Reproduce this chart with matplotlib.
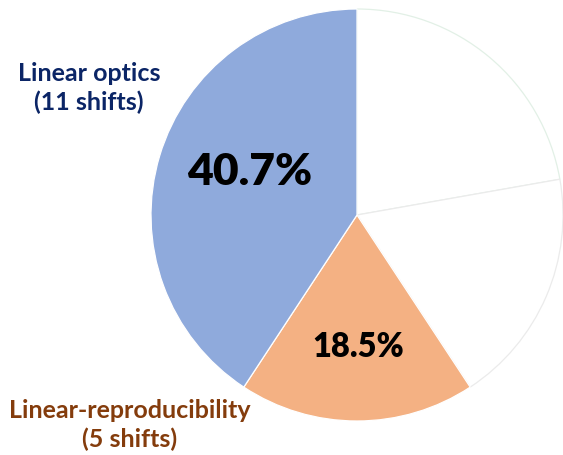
import matplotlib.pyplot as plt

# shifts per category, clockwise from 12 o'clock
categories = ['Other A', 'Other B', 'Linear-reproducibility', 'Linear optics']
shifts = [6, 5, 5, 11]
colors = ['white', 'white', '#F4B183', '#8FAADC']
edges = ['#E2F0E6', '#EBEBEB', 'white', 'white']

plt.rcParams['font.family'] = ['Lato', 'DejaVu Sans']

fig = plt.figure(figsize=(5.63, 4.56), dpi=100)
W, H = 563, 456
cx, cy, r = 357, 216, 206
ax = fig.add_axes([(cx - r) / W, (H - cy - r) / H, 2 * r / W, 2 * r / H])

wedges, _ = ax.pie(shifts, colors=colors, startangle=90, counterclock=False,
                   radius=1, wedgeprops=dict(linewidth=0.9))
for w, ec in zip(wedges, edges):
    w.set_edgecolor(ec)
ax.set_xlim(-1, 1)
ax.set_ylim(-1, 1)
ax.set_aspect('equal')
ax.axis('off')

total = sum(shifts)


def px(x, y):
    return (x - cx) / r, (cy - y) / r


pct_optics = 100 * shifts[3] / total
pct_repro = 100 * shifts[2] / total
ax.text(*px(250, 172), f'{pct_optics:.1f}%', fontsize=32, fontweight='heavy',
        ha='center', va='center', color='black')
ax.text(*px(358, 347), f'{pct_repro:.1f}%', fontsize=23.5, fontweight='heavy',
        ha='center', va='center', color='black')

ax.text(*px(89, 88), f'Linear optics\n({shifts[3]} shifts)', fontsize=18,
        fontweight='bold', ha='center', va='center', color='#0B2566',
        linespacing=1.32, clip_on=False)
ax.text(*px(130, 425), f'Linear-reproducibility\n({shifts[2]} shifts)', fontsize=18,
        fontweight='bold', ha='center', va='center', color='#843C0C',
        linespacing=1.32, clip_on=False)

fig.savefig('out.png', dpi=100)
